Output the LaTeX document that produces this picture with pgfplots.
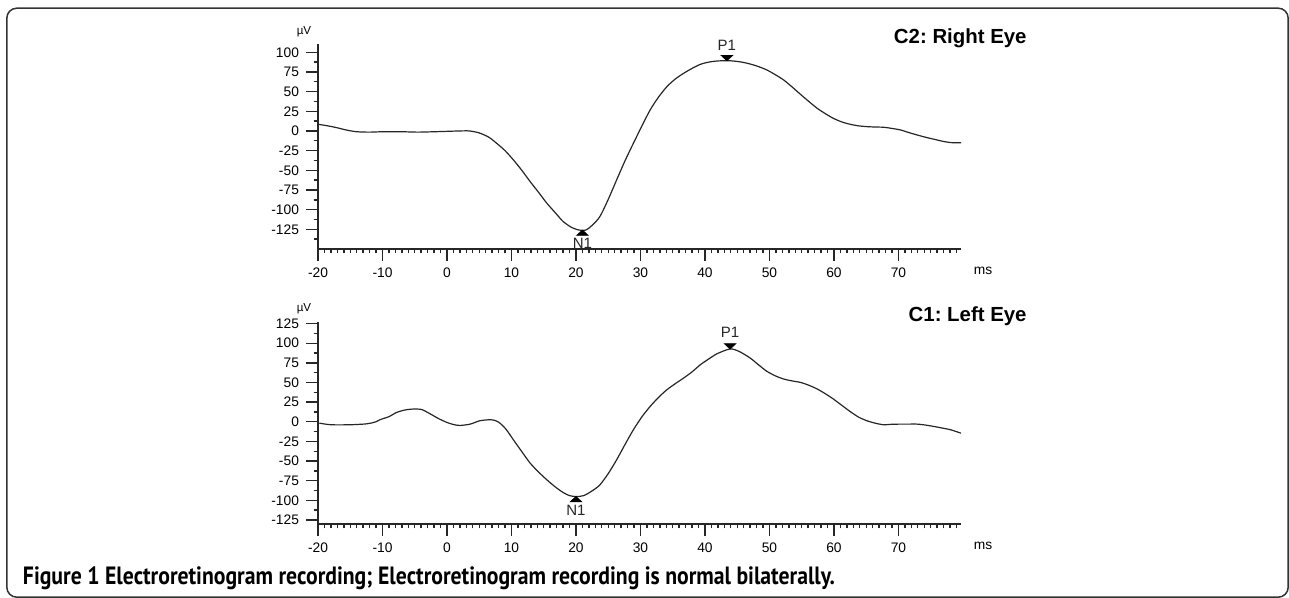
\documentclass[border=0pt]{standalone}
\usepackage{fontspec}
\setmainfont{Liberation Sans}
\newfontfamily\capfont{PT Sans}
\usepackage{pgfplots}
\pgfplotsset{compat=1.18}
\frenchspacing

\pgfdeclareplotmark{tridown}{%
  \pgfpathmoveto{\pgfpoint{0pt}{0pt}}%
  \pgfpathlineto{\pgfpoint{-2.8pt}{2.6pt}}%
  \pgfpathlineto{\pgfpoint{2.8pt}{2.6pt}}%
  \pgfpathclose\pgfusepathqfillstroke}
\pgfdeclareplotmark{triup}{%
  \pgfpathmoveto{\pgfpoint{0pt}{0pt}}%
  \pgfpathlineto{\pgfpoint{-2.8pt}{-2.6pt}}%
  \pgfpathlineto{\pgfpoint{2.8pt}{-2.6pt}}%
  \pgfpathclose\pgfusepathqfillstroke}

\pgfplotsset{
  ergaxis/.style={
    scale only axis,
    width=321.5pt,
    xmin=-20, xmax=79.7,
    axis lines=left,
    axis line style={-, line width=0.7pt, black!85},
    tick align=outside,
    major tick length=6pt,
    minor tick length=2.2pt,
    every tick/.style={line width=0.7pt, black!85},
    xtick={-20,-10,...,70},
    xticklabels={-20,-10,0,10,20,30,40,50,60,70},
    minor xtick={-19,-18,...,79},
    ticklabel style={font=\fontsize{6.9}{7}\selectfont},
    /pgf/number format/assume math mode=true,
    xlabel={ms},
    every axis x label/.style={at={(rel axis cs:1,0)}, anchor=center, xshift=11pt, yshift=-11pt, font=\fontsize{6.9}{7}\selectfont},
    ylabel={µV},
    every axis y label/.style={at={(rel axis cs:0,1)}, anchor=center, xshift=-7pt, yshift=6.5pt, font=\fontsize{5.8}{6}\selectfont},
    clip=false,
  },
  ergline/.style={black!85, line width=0.6pt, smooth, tension=0.45, no marks},
}

\begin{document}
\begin{tikzpicture}
\path[use as bounding box] (0,0) rectangle (644.5pt,299pt);
\draw[rounded corners=5pt, line width=0.75pt, black!80] (3.4pt,0.4pt) rectangle (644.1pt,294.9pt);

% ---------- Top: C2 Right eye ----------
\begin{axis}[ergaxis,
  at={(159pt,174.5pt)}, anchor=south west,
  height=102.3pt,
  ymin=-150, ymax=110,
  ytick={-125,-100,...,100},
  yticklabels={-125,-100,-75,-50,-25,0,25,50,75,100},
  minor ytick={-137.5,-112.5,...,87.5},
]
\addplot[ergline] coordinates {
(-20,8.5) (-18.5,6.5) (-17,4) (-15.5,1) (-14,-1) (-12,-1.5) (-10,-1) (-7,-1)
(-4.5,-1.5) (-2,-1) (0,-0.5) (2,0) (3.5,0) (5,-2.5) (6.5,-8) (7.7,-15.7)
(9,-25) (10.3,-36.8) (11.6,-50) (12.9,-64.4) (14.2,-78) (15.5,-92) (16.8,-104)
(18,-115) (19.3,-122.5) (20.5,-126) (21.5,-126) (22.5,-120) (23.7,-108.9)
(25,-87) (26.3,-62.3) (27.6,-38) (28.9,-15.7) (30.2,6) (31.5,26.7) (32.8,43)
(34.1,56.3) (35.4,66) (36.7,73.3) (38,79.5) (39.3,84.7) (40.6,87.5) (41.9,88.9)
(43.4,89.3) (44.4,88.9) (45.7,87.5) (47,85.1) (48.3,81.8) (49.6,77.5) (50.9,71.5)
(52.2,64.8) (53.5,56) (54.8,46.6) (56.1,37.5) (57.4,28.8) (58.7,21.8) (59.9,16.1)
(61.2,11.5) (62.5,8.5) (63.8,6.5) (65.1,5.5) (66.4,5) (67.7,4.7) (69,3.2)
(70.3,1.3) (71.6,-2) (72.9,-5.1) (74.2,-8) (75.5,-10.5) (76.8,-13) (78.1,-14.8)
(79.7,-15)
};
\addplot[only marks, mark=tridown, black] coordinates {(43.4,89.3)};
\addplot[only marks, mark=triup, black] coordinates {(21,-126)};
\node[anchor=base, font=\fontsize{7.5}{8}\selectfont, black!85] at (axis cs:43.4,89.3) [yshift=5.2pt] {P1};
\node[anchor=north, inner sep=0pt, font=\fontsize{7.5}{8}\selectfont, black!85] at (axis cs:21,-126) [yshift=-3.7pt] {N1};
\node[anchor=base east, inner sep=0pt, font=\fontsize{10.2}{11}\selectfont\bfseries] at (rel axis cs:1,1) [xshift=33pt, yshift=0.5pt] {C2: Right Eye};
\end{axis}

% ---------- Bottom: C1 Left eye ----------
\begin{axis}[ergaxis,
  at={(159pt,37.05pt)}, anchor=south west,
  height=101.15pt,
  ymin=-130, ymax=127.5,
  ytick={-125,-100,...,125},
  yticklabels={-125,-100,-75,-50,-25,0,25,50,75,100,125},
  minor ytick={-112.5,-87.5,...,112.5},
]
\addplot[ergline] coordinates {
(-19.8,-1.7) (-18,-3.8) (-15,-3.8) (-12.4,-2.6) (-11,0) (-10.4,2.6) (-9,6.5)
(-7.8,11.9) (-6.5,15) (-5.2,16.2) (-3.9,15.5) (-2.6,10) (-1.3,4) (0,-0.9)
(1,-3.5) (2,-4.7) (3.6,-3) (5.1,1.3) (6.7,2.6) (7.5,1.5) (8.2,-1.7) (9.2,-10)
(10.3,-23) (11.6,-38) (12.9,-52.7) (14.2,-64) (15.5,-74) (16.8,-83) (18,-90)
(19,-94) (20,-95.2) (21.2,-94) (22.5,-88) (23.7,-80.4) (25,-66) (26.3,-48.5)
(27.6,-29) (28.9,-10.2) (30.2,6) (31.5,19.5) (32.8,31) (34.1,40.8) (35.4,48.5)
(36.7,55.7) (38,63.5) (39.3,72.7) (40.6,80) (41.9,86.7) (43.9,92.7) (45.3,89.5)
(47,81.2) (48.3,72.5) (49.6,64.2) (50.9,58.5) (52.2,54.4) (53.5,52) (54.8,50.1)
(56.1,46.5) (57.4,41.7) (58.7,35.5) (59.9,29) (61.2,21) (62.5,13.1) (63.8,6)
(65.1,1.3) (66.4,-1.8) (67.7,-3.8) (69,-3.2) (70.3,-3) (71.6,-3) (72.9,-3)
(74.2,-4.2) (75.5,-6) (76.8,-8) (78.1,-10.2) (79.7,-14.5)
};
\addplot[only marks, mark=tridown, black] coordinates {(43.9,92.7)};
\addplot[only marks, mark=triup, black] coordinates {(20,-95.2)};
\node[anchor=base, font=\fontsize{7.5}{8}\selectfont, black!85] at (axis cs:43.9,92.7) [yshift=5.5pt] {P1};
\node[anchor=north, inner sep=0pt, font=\fontsize{7.5}{8}\selectfont, black!85] at (axis cs:20,-95.2) [yshift=-4.2pt] {N1};
\node[anchor=base east, inner sep=0pt, font=\fontsize{10.2}{11}\selectfont\bfseries] at (rel axis cs:1,1) [xshift=33pt] {C1: Left Eye};
\end{axis}

\node[anchor=base west, inner sep=0pt] at (11.3pt,6.5pt)
  {\resizebox{406pt}{\height}{\capfont\fontsize{12.5}{14}\selectfont\bfseries Figure 1 Electroretinogram recording; Electroretinogram recording is normal bilaterally.}};
\end{tikzpicture}
\end{document}
